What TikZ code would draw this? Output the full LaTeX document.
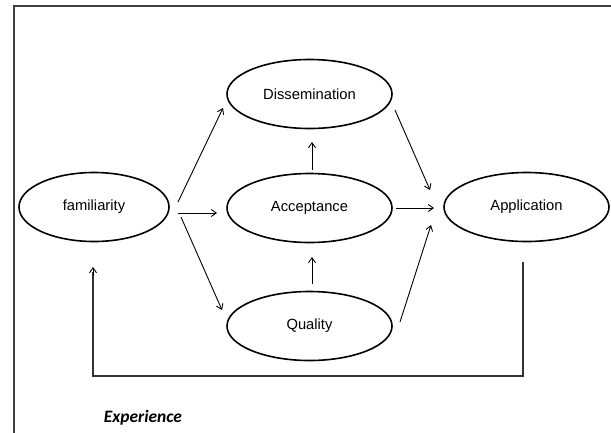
\documentclass[tikz,border=0pt]{standalone}
\usepackage{fontspec}
\setmainfont{Liberation Sans}
\newfontfamily\notefont{Carlito}
\usetikzlibrary{arrows.meta,shapes.geometric}
\begin{document}
\begin{tikzpicture}[x=1bp,y=-1bp,
  concept/.style={draw=black,line width=1.6bp,ellipse,minimum width=#1,minimum height=69bp,inner sep=0pt,font=\fontsize{14.8}{16}\selectfont},
  concept/.default=165bp,
  flow/.style={draw=black,line width=0.9bp,-{Straight Barb[length=5bp,width=7bp]}},
  loopline/.style={draw=black!80,line width=1.4bp}]
\useasboundingbox (0,0) rectangle (611,432);
\begin{scope}
  \clip (0,0) rectangle (611,432);
  % outer frame
  \draw[draw=black!75,line width=1.5bp] (14,445) -- (14,6) -- (625,6);
\end{scope}

% concepts
\node[concept=150bp] (fam) at (94,207) {familiarity};
\node[concept] (dis) at (309.5,94) {Dissemination};
\node[concept] (acc) at (309.5,208) {Acceptance};
\node[concept] (qua) at (309.5,326) {Quality};
\node[concept] (app) at (526.5,207) {Application};

% connectors
\coordinate (f1) at (178,202);
\coordinate (f2) at (178,213);
\coordinate (f3) at (181,217);
\draw[flow] (f1) -- (223,108);
\draw[flow] (f2) -- (217,213);
\draw[flow] (f3) -- (222,310);
\draw[flow] (312,170) -- (312,142);
\draw[flow] (312,284) -- (312,257);
\draw[flow] (395,110) -- (430,190);
\draw[flow] (396,208) -- (434,208);
\draw[flow] (400,322) -- (431,225);

% feedback loop from Application back to familiarity
\coordinate (l0) at (523,262);
\coordinate (l1) at (523,376);
\coordinate (l2) at (93,376);
\coordinate (l3) at (93,267);
\draw[loopline] (l0) -- (l1) -- (l2) -- (93,272);
\draw[flow] (93,276) -- (l3);

\node[font=\notefont\bfseries\itshape\fontsize{17.5}{19}\selectfont] (exp) at (143,418) {Experience};
\end{tikzpicture}
\end{document}
